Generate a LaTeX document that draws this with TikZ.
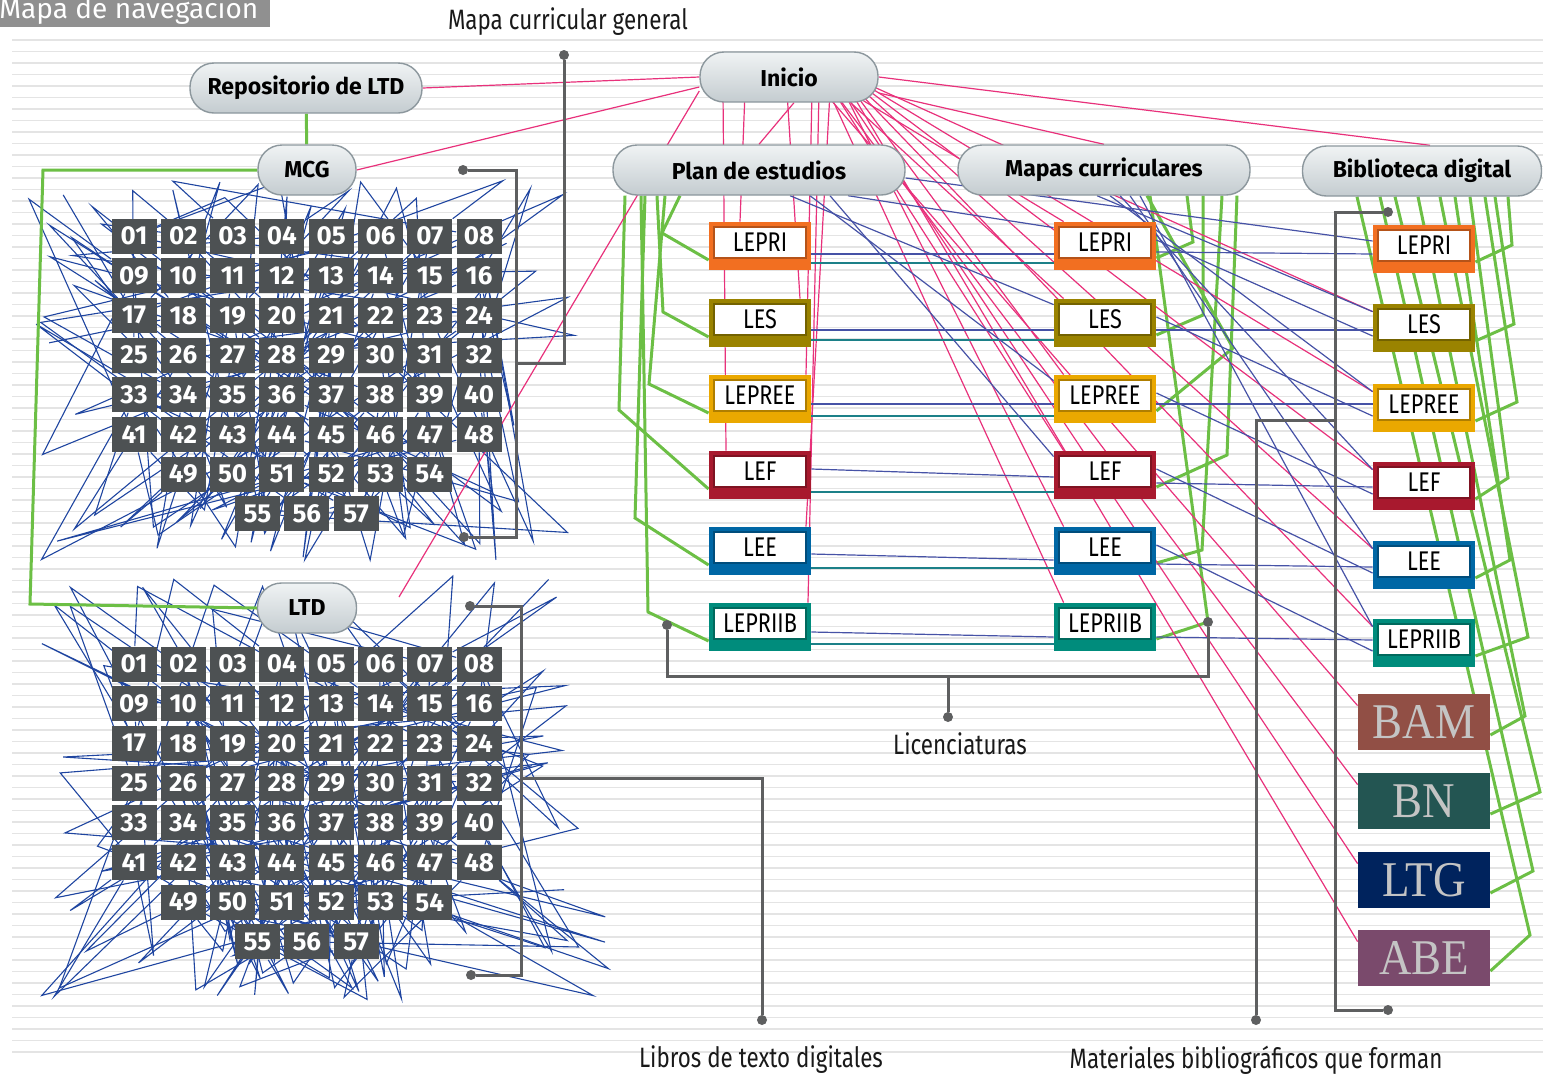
\documentclass[tikz,border=0pt]{standalone}
\usepackage{fontspec}
\setmainfont{Fira Sans}
\newfontfamily\condfont{Fira Sans}[FakeStretch=0.8]
\newfontfamily\libfont{Liberation Serif}[FakeStretch=0.9]
\usetikzlibrary{positioning,calc,backgrounds}

\definecolor{pinkln}{HTML}{E8317B}
\definecolor{gridblue}{HTML}{1F45A0}
\definecolor{violetln}{HTML}{4652A6}
\definecolor{tealln}{HTML}{1C8088}
\definecolor{greenln}{HTML}{6CBF45}
\definecolor{bracketgray}{HTML}{5E5F60}
\definecolor{numgray}{HTML}{4D5153}
\definecolor{stripegray}{HTML}{E4E4E4}
\definecolor{tabgray}{HTML}{909090}
\definecolor{pillborder}{HTML}{8C979D}
\definecolor{pilltop}{HTML}{F0F3F4}
\definecolor{pillbot}{HTML}{C4CCD0}
\definecolor{lepri}{HTML}{F26F21}
\definecolor{les}{HTML}{9A8300}
\definecolor{lepree}{HTML}{EAA800}
\definecolor{lef}{HTML}{A8192E}
\definecolor{lee}{HTML}{0067A5}
\definecolor{lepriib}{HTML}{008C7C}
\definecolor{bamc}{HTML}{914F45}
\definecolor{bnc}{HTML}{235552}
\definecolor{ltgc}{HTML}{00235D}
\definecolor{abec}{HTML}{7A4A6C}
\definecolor{libtext}{HTML}{C4C4C4}

\tikzset{
  pill/.style={draw=pillborder, line width=0.7pt, rounded corners=12pt,
    top color=pilltop, bottom color=pillbot, minimum height=25pt, inner sep=0pt,
    font=\fontsize{11.5}{12}\selectfont\bfseries, text=black},
  numbox/.style={fill=numgray, text=white, minimum width=22.5pt, minimum height=17.5pt,
    inner sep=0pt, font=\fontsize{13}{13}\selectfont\bfseries},
  licbox/.style={fill=#1, minimum width=51pt, inner xsep=0pt, inner ysep=0pt,
    text height=14.5pt, text depth=9.5pt, font={\condfont\fontsize{13.5}{14}\selectfont},
    path picture={\filldraw[fill=white, draw=#1!75!black, line width=0.6pt]
      ([xshift=2.5pt,yshift=-2.5pt]path picture bounding box.north west) rectangle
      ([xshift=-2.5pt,yshift=6pt]path picture bounding box.south east);}},
  libbox/.style={fill=#1, minimum width=66pt, minimum height=28pt, inner sep=0pt,
    text=libtext, font={\libfont\fontsize{25}{25}\selectfont}},
  note/.style={font={\condfont\fontsize{14}{14}\selectfont}, text=black!90, inner sep=0pt},
  dot/.style={circle, fill=bracketgray, inner sep=0pt, minimum size=5pt},
  brk/.style={draw=bracketgray, line width=1.5pt},
  stripe/.style={draw=stripegray, line width=0.9pt},
  gridln/.style={draw=gridblue, line width=0.55pt},
  pinkl/.style={draw=pinkln, line width=0.6pt},
  greenl/.style={draw=greenln, line width=1.5pt},
  bluel/.style={draw=violetln, line width=0.6pt},
  teall/.style={draw=tealln, line width=0.8pt}
}

\begin{document}
\begin{tikzpicture}[x=0.5pt, y=-0.5pt]
\useasboundingbox (0,0) rectangle (1543,1077);

% --- title tab ---
\fill[tabgray] (0,0) rectangle (270,27);
\node[anchor=base west, inner sep=0pt, text=white, font=\fontsize{14}{14}\selectfont] (navtitle) at (-1,18) {Mapa de navegación};

% --- pills ---
\node[pill, minimum width=116pt] (repo) at (306,88) {Repositorio de LTD};
\node[pill, minimum width=89pt] (inicio) at (789,77) {Inicio};
\node[pill, minimum width=49pt] (mcg) at (307,170) {MCG};
\node[pill, minimum width=146pt] (plan) at (759,170) {Plan de estudios};
\node[pill, minimum width=146pt] (mapas) at (1104,170) {Mapas curriculares};
\node[pill, minimum width=119.5pt] (biblio) at (1422,171) {Biblioteca digital};
\node[pill, minimum width=49.5pt] (ltd) at (307,608) {LTD};

% --- number grids (m = MCG, t = LTD) ---
\foreach \g/\y in {m/236, t/664}{
  \foreach \r in {0,...,5}
    \foreach \c in {0,...,7}{
      \pgfmathtruncatemacro\n{8*\r+\c+1}
      \node[numbox] (\g\n) at (134+49.3*\c, \y+39.7*\r) {\ifnum\n<10 0\fi\n};
    }
  \foreach \c in {1,...,6}{
    \pgfmathtruncatemacro\n{48+\c}
    \node[numbox] (\g\n) at (134+49.3*\c, \y+238.2) {\n};
  }
  \foreach \k in {0,1,2}{
    \pgfmathtruncatemacro\n{55+\k}
    \node[numbox] (\g\n) at (257.5+49.3*\k, \y+277.9) {\n};
  }
}

% --- licenciaturas (p = plan, c = mapas, b = biblioteca) ---
\foreach \i/\lab/\col/\yp/\yq in {1/LEPRI/lepri/246/249, 2/LES/les/323/328,
    3/LEPREE/lepree/399/408, 4/LEF/lef/475/486, 5/LEE/lee/551/565, 6/LEPRIIB/lepriib/627/643}{
  \node[licbox=\col] (p\i) at (760,\yp) {\lab};
  \node[licbox=\col] (c\i) at (1105,\yp) {\lab};
  \node[licbox=\col] (b\i) at (1424,\yq) {\lab};
}

% --- acervos ---
\node[libbox=bamc] (bam) at (1424,722) {BAM};
\node[libbox=bnc] (bn) at (1424,801) {BN};
\node[libbox=ltgc] (ltg) at (1424,880) {LTG};
\node[libbox=abec] (abe) at (1424,958) {ABE};

% --- notes ---
\node[note] (nmcg) at (568,22) {Mapa curricular general};
\node[note] (nlic) at (960,744) {Licenciaturas};
\node[note] (nltd) at (761,1060) {Libros de texto digitales};
\node[note] (nmat) at (1256,1060) {Materiales bibliográficos que forman};

% --- brackets ---
\node[dot] (dmcg) at (564,55) {};
\node[dot] (dm1) at (463,170) {};
\node[dot] (dm2) at (464,537) {};
\draw[brk] (dm1) -- (516,170) -- (516,537) -- (dm2);
\draw[brk] (516,363) -- (564,363) -- (dmcg);

\node[dot] (dltd) at (762,1020) {};
\node[dot] (dt1) at (470,606) {};
\node[dot] (dt2) at (471,975) {};
\draw[brk] (dt1) -- (521,606) -- (521,975) -- (dt2);
\draw[brk] (521,778) -- (762,778) -- (dltd);

\node[dot] (dlic) at (948,717) {};
\node[dot] (dl1) at (667,625) {};
\node[dot] (dl2) at (1208,622) {};
\draw[brk] (dl1) -- (667,676) -- (1208,676) -- (dl2);
\draw[brk] (948,676) -- (dlic);

\node[dot] (dmat) at (1256,1020) {};
\node[dot] (db1) at (1388,212) {};
\node[dot] (db2) at (1388,1010) {};
\draw[brk] (db1) -- (1335,212) -- (1335,1010) -- (db2);
\draw[brk] (1335,420) -- (1256,420) -- (dmat);

\begin{scope}[on background layer]
  % ruled paper
  \foreach \s in {0,...,88}
    \draw[stripe] (12,40+11.5*\s) -- (1543,40+11.5*\s);

  % blue links inside the grids
  \pgfmathsetseed{31415}
  \foreach \g/\ya/\yb/\xr in {m/175/560/575, t/575/1000/610}{
    \foreach \i in {1,...,57}{
      % long V through the grid, turning near its top or bottom edge
      \pgfmathtruncatemacro\j{random(1,57)}
      \pgfmathsetmacro\dx{(rnd-0.5)*220}
      \pgfmathtruncatemacro\up{random(0,9)}
      \ifnum\up<3
        \pgfmathsetmacro\by{\ya+35*rnd}
      \else
        \pgfmathsetmacro\by{\yb-70+70*rnd}
      \fi
      \draw[gridln] (\g\i) -- ($(\g\i |- 0,\by)+(\dx,0)$) -- (\g\j);
      % some links leave the grid sideways
      \pgfmathtruncatemacro\side{random(0,3)}
      \pgfmathtruncatemacro\j{random(1,57)}
      \ifcase\side
        \pgfmathsetmacro\bx{35+70*rnd}\pgfmathsetmacro\by{\ya+(\yb-\ya)*rnd}
        \draw[gridln] (\g\i) -- (\bx,\by) -- (\g\j);
      \or
        \pgfmathsetmacro\bx{\xr-90+90*rnd}\pgfmathsetmacro\by{\ya+(\yb-\ya)*rnd}
        \draw[gridln] (\g\i) -- (\bx,\by) -- (\g\j);
      \fi
    }
  }

  % green links
  \draw[greenl] (repo) -- (mcg);
  \draw[greenl] (mcg.west) -- (43,170) -- (30,604) -- (ltd.west);
  \foreach \i/\dx/\bx/\by in {1/-79/662/233, 2/-102/663/312, 3/-94/649/384,
      4/-134/619/410, 5/-114/635/518, 6/-118/648/612}
    \draw[greenl] ($(plan.south)+(\dx,0)$) -- (\bx,\by) -- ([yshift=-7pt]p\i.west);
  \foreach \i/\dx/\bx/\by in {1/83/1193/242, 2/99/1203/315, 3/43/1233/348,
      4/133/1227/455, 5/118/1202/550, 6/46/1208/622}
    \draw[greenl] ($(mapas.south)+(\dx,0)$) -- (\bx,\by) -- ([yshift=-6pt]c\i.east);
  \foreach \t/\dx/\bx/\by in {b1/86/1512/245, b2/73/1514/324, b3/63/1517/402,
      b4/48/1508/478, b5/33/1510/560, b6/18/1528/637, bam/-4/1525/716,
      bn/-27/1540/792, ltg/-42/1533/871, abe/-65/1530/935}
    \draw[greenl] ($(biblio.south)+(\dx,0)$) -- (\bx,\by) -- ([yshift=-6.5pt]\t.east);

  % pink links from Inicio
  \coordinate (ltdend) at (399,597);
  \draw[pinkl] (inicio.west) -- (repo.east);
  \draw[pinkl] ([yshift=-5pt]inicio.west) -- (mcg.east);
  \draw[pinkl] ([yshift=-7pt]inicio.west) -- (ltdend);
  \draw[pinkl] ($(inicio.south)+(5,0)$) -- (plan.north);
  \draw[pinkl] ([yshift=-8pt]inicio.east) -- (mapas.north);
  \draw[pinkl] (inicio.east) -- ([xshift=4pt]biblio.north);
  \foreach \i/\dx/\ex in {1/-44/-10, 2/-2/20, 3/23/23, 4/-66/-17, 5/41/23, 6/30/24}
    \draw[pinkl] ($(inicio.center)+(\dx,15)$) -- ([xshift=\ex pt]p\i.north);
  \foreach \i/\dx in {1/60, 2/50, 3/65, 4/45, 5/55, 6/40}
    \draw[pinkl] ($(inicio.center)+(\dx,15)$) -- ([xshift=5pt]c\i.north west);
  \foreach \i/\dx in {2/85, 3/80, 4/75, 5/70, 6/65}
    \draw[pinkl] ($(inicio.center)+(\dx,10)$) -- ([yshift=-4pt]b\i.north west);
  \foreach \t/\dx in {bam/35, bn/45, ltg/55, abe/62}
    \draw[pinkl] ($(inicio.center)+(\dx,15)$) -- ([yshift=-6pt]\t.north west);

  % blue and teal links between the columns
  \foreach \i/\pa/\ca/\cb/\ba in {1/-4/-4/-3/-2.5, 2/-3.5/-3.5/-3.5/-1, 3/-2.5/-2.5/-2.5/2,
      4/3/-1/-4/-0.5, 5/-1.5/-4.5/-6.5/-1, 6/-2.5/-5/-5/1.5}{
    \draw[bluel] ([yshift=\pa pt]p\i.east) -- ([yshift=\ca pt]c\i.west);
    \draw[teall] ([yshift=-8.5pt]p\i.east) -- ([yshift=-8.5pt]c\i.west);
    \draw[bluel] ([yshift=\cb pt]c\i.east) -- ([yshift=\ba pt]b\i.west);
  }
  \foreach \i/\dx in {1/89, 2/31, 3/51, 4/71}
    \draw[bluel] ($(plan.south)+(\dx,0)$) -- ([yshift=-3pt]c\i.north west);
  \draw[bluel] ([yshift=-4pt]plan.east) -- ([yshift=4pt]b1.west);
  \foreach \i/\dx in {2/-7, 3/6, 4/16, 5/26, 6/36}
    \draw[bluel] ($(mapas.south)+(\dx,0)$) -- ([yshift=-4pt]b\i.north west);
  \foreach \i/\j in {1/2, 2/3, 3/4, 4/5, 5/6}
    \draw[bluel] ([yshift=3pt]c\i.east) -- ([yshift=-4pt]b\j.west);
\end{scope}
\end{tikzpicture}
\end{document}
